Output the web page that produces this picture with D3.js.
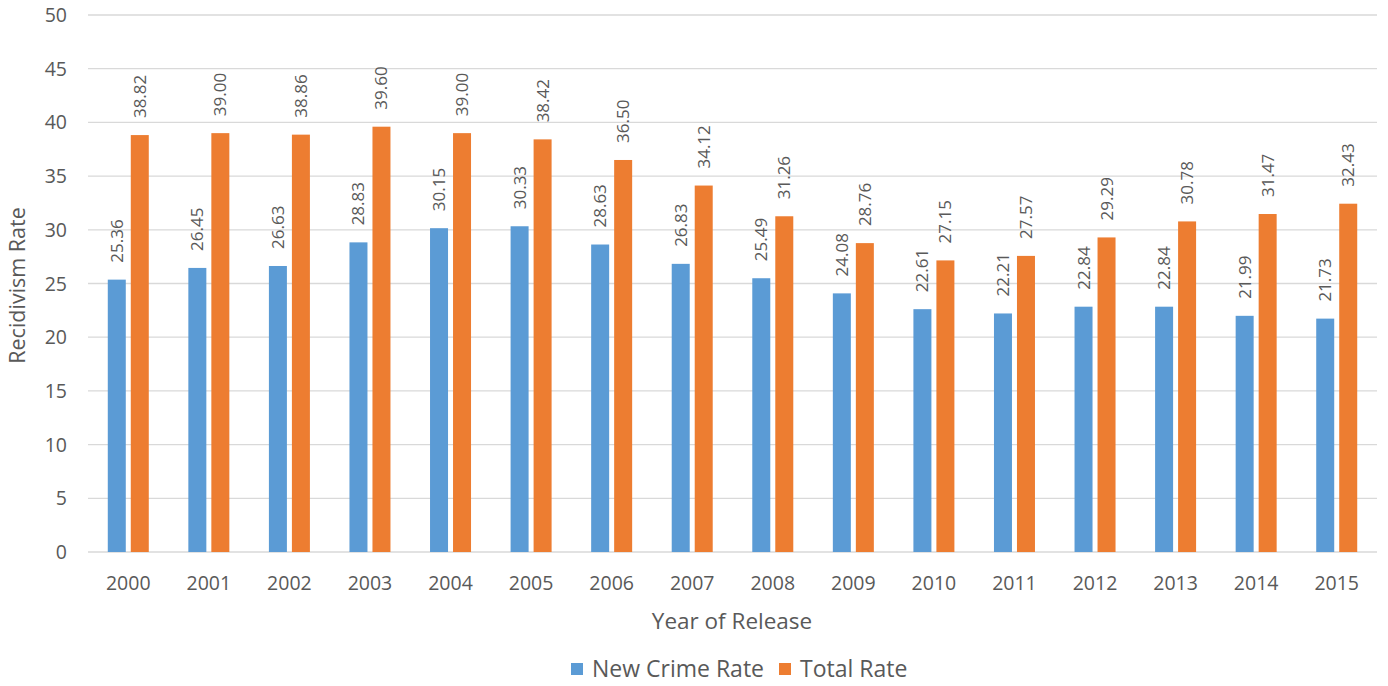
<!DOCTYPE html>
<meta charset="utf-8">
<style>
body { margin: 0; background: #fff; }
text { font-family: "Open Sans", "Noto Sans", sans-serif; fill: #595959; }
.grid line { stroke: #d9d9d9; stroke-width: 1.3; }
</style>
<body>
<script src="https://cdn.jsdelivr.net/npm/d3@7"></script>
<script>
var years = ["2000","2001","2002","2003","2004","2005","2006","2007","2008","2009","2010","2011","2012","2013","2014","2015"];
var newCrime = [25.36,26.45,26.63,28.83,30.15,30.33,28.63,26.83,25.49,24.08,22.61,22.21,22.84,22.84,21.99,21.73];
var totalRate = [38.82,39.00,38.86,39.60,39.00,38.42,36.50,34.12,31.26,28.76,27.15,27.57,29.29,30.78,31.47,32.43];
var seriesNames = ["New Crime Rate", "Total Rate"];
var colors = ["#5b9bd5", "#ed7d31"];
var yTicks = [0,5,10,15,20,25,30,35,40,45,50];

var W = 1388, H = 686;
var margin = {top: 15, right: 11, bottom: 134, left: 88},
    width = W - margin.left - margin.right,
    height = H - margin.top - margin.bottom;

var svg = d3.select("body").append("svg")
    .attr("width", W)
    .attr("height", H);

var g = svg.append("g")
    .attr("transform", "translate(" + margin.left + "," + margin.top + ")");

var x = d3.scaleBand().domain(years).range([0, width]);
var y = d3.scaleLinear().domain([0, 50]).range([height, 0]);
var bw = 18, gap = 5;

// gridlines
g.append("g").attr("class", "grid")
  .selectAll("line").data(yTicks).enter().append("line")
    .attr("x1", 0).attr("x2", width)
    .attr("y1", function(d) { return y(d); })
    .attr("y2", function(d) { return y(d); });

// y tick labels
g.selectAll(".ytick").data(yTicks).enter().append("text")
    .attr("x", -21)
    .attr("y", function(d) { return y(d); })
    .attr("dy", "0.36em")
    .attr("text-anchor", "end")
    .style("font-size", "19.5px")
    .text(function(d) { return d; });

// x tick labels
g.selectAll(".xtick").data(years).enter().append("text")
    .attr("x", function(d) { return x(d) + x.bandwidth() / 2; })
    .attr("y", height + 38)
    .attr("text-anchor", "middle")
    .style("font-size", "19.5px")
    .text(function(d) { return d; });

var data = years.map(function(yr, i) {
  return [{year: yr, s: 0, v: newCrime[i]}, {year: yr, s: 1, v: totalRate[i]}];
});
var flat = [].concat.apply([], data);

function barX(d) {
  var c = x(d.year) + x.bandwidth() / 2;
  return d.s === 0 ? c - gap / 2 - bw : c + gap / 2;
}

g.selectAll(".bar").data(flat).enter().append("rect")
    .attr("x", barX)
    .attr("width", bw)
    .attr("y", function(d) { return y(d.v); })
    .attr("height", function(d) { return height - y(d.v); })
    .style("fill", function(d) { return colors[d.s]; });

// value labels, rotated
g.selectAll(".lbl").data(flat).enter().append("text")
    .attr("transform", function(d) {
      return "translate(" + (barX(d) + bw / 2 + 6) + "," + (y(d.v) - 17) + ")rotate(-90)";
    })
    .attr("text-anchor", "start")
    .style("font-size", "17px")
    .text(function(d) { return d.v.toFixed(2); });

// axis titles
svg.append("text")
    .attr("transform", "translate(25," + (margin.top + height / 2 + 2) + ")rotate(-90)")
    .attr("text-anchor", "middle")
    .style("font-size", "21.5px")
    .text("Recidivism Rate");

svg.append("text")
    .attr("x", 732).attr("y", 629)
    .attr("text-anchor", "middle")
    .style("font-size", "22.5px")
    .text("Year of Release");

// legend
var legX = [571, 779];
var leg = svg.selectAll(".leg").data(seriesNames).enter().append("g")
    .attr("transform", function(d, i) { return "translate(" + legX[i] + ",663)"; });
leg.append("rect").attr("width", 12).attr("height", 12)
    .style("fill", function(d, i) { return colors[i]; });
leg.append("text").attr("x", 21).attr("y", 6).attr("dy", "0.36em")
    .style("font-size", "23px")
    .text(function(d) { return d; });
</script>
</body>
